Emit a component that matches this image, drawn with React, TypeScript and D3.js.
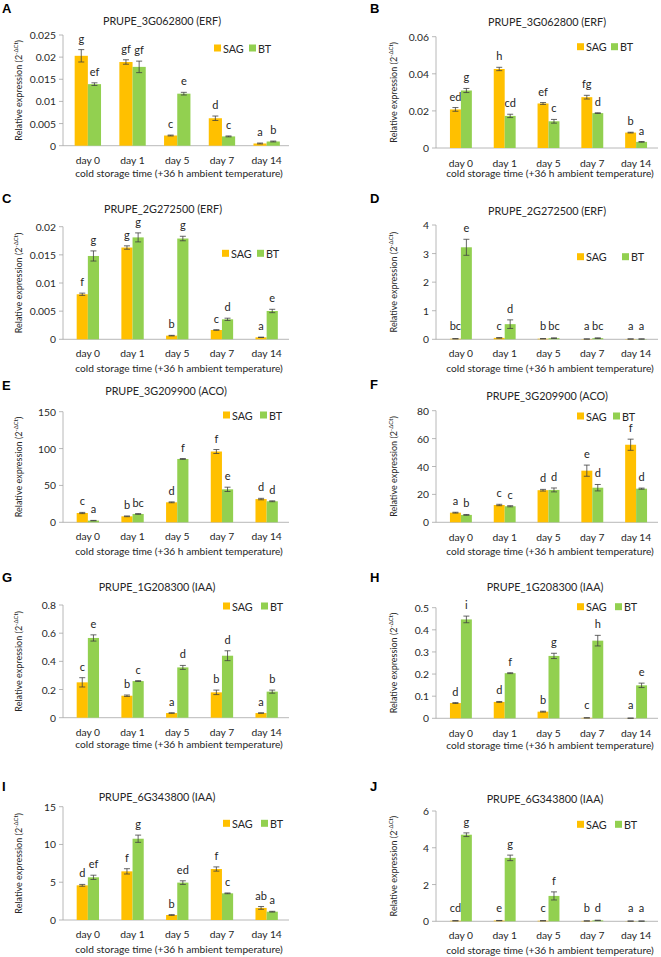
import React from "react";
import * as d3 from "d3";

const DAYS = ["day 0", "day 1", "day 5", "day 7", "day 14"];
const SERIES = ["SAG", "BT"];
const COLORS = ["#FFC000", "#92D050"];
const X_TITLE = "cold storage time (+36 h ambient temperature)";

// Panel A
const A_SAG = [0.0203, 0.0189, 0.0023, 0.0062, 0.0005];
const A_SAG_ERR = [0.0014, 0.0005, 0.0001, 0.0005, 0.0001];
const A_BT = [0.0139, 0.0178, 0.01175, 0.0021, 0.00095];
const A_BT_ERR = [0.0003, 0.0013, 0.0003, 0.0001, 0.0001];
const A_SAG_LET = ["g", "gf", "c", "d", "a"];
const A_BT_LET = ["ef", "gf", "e", "c", "b"];
// Panel B
const B_SAG = [0.0208, 0.0426, 0.024, 0.0274, 0.0083];
const B_SAG_ERR = [0.001, 0.0009, 0.0005, 0.001, 0.0002];
const B_BT = [0.031, 0.0173, 0.0144, 0.0188, 0.0033];
const B_BT_ERR = [0.0011, 0.0009, 0.001, 0.0002, 0.0002];
const B_SAG_LET = ["ed", "h", "ef", "fg", "b"];
const B_BT_LET = ["g", "cd", "c", "d", "a"];
// Panel C
const C_SAG = [0.008, 0.0163, 0.00065, 0.00165, 0.00035];
const C_SAG_ERR = [0.0002, 0.0003, 0.00005, 0.00005, 0.00003];
const C_BT = [0.0148, 0.0181, 0.0179, 0.00355, 0.00503];
const C_BT_ERR = [0.0009, 0.0008, 0.0004, 0.0002, 0.0003];
const C_SAG_LET = ["f", "g", "b", "c", "a"];
const C_BT_LET = ["g", "g", "g", "d", "e"];
// Panel D
const D_SAG = [0.02, 0.05, 0.02, 0.01, 0.01];
const D_SAG_ERR = [0.005, 0.01, 0.005, 0.003, 0.002];
const D_BT = [3.22, 0.53, 0.04, 0.04, 0.01];
const D_BT_ERR = [0.28, 0.15, 0.01, 0.01, 0.003];
const D_SAG_LET = ["bc", "c", "b", "a", "a"];
const D_BT_LET = ["e", "d", "bc", "bc", "a"];
// Panel E
const E_SAG = [12.6, 8.1, 27.1, 96.0, 31.5];
const E_SAG_ERR = [0.8, 0.5, 0.6, 2.7, 1.0];
const E_BT = [2.3, 11.3, 85.9, 44.7, 28.5];
const E_BT_ERR = [0.3, 0.5, 0.6, 2.9, 0.6];
const E_SAG_LET = ["c", "b", "d", "f", "d"];
const E_BT_LET = ["a", "bc", "f", "e", "d"];
// Panel F
const F_SAG = [6.9, 12.4, 23.0, 37.0, 55.6];
const F_SAG_ERR = [0.3, 0.5, 0.6, 4.0, 4.0];
const F_BT = [5.3, 11.5, 23.2, 24.8, 24.1];
const F_BT_ERR = [0.3, 0.4, 1.4, 2.3, 0.4];
const F_SAG_LET = ["a", "c", "d", "e", "f"];
const F_BT_LET = ["b", "c", "d", "d", "d"];
// Panel G
const G_SAG = [0.251, 0.156, 0.033, 0.18, 0.033];
const G_SAG_ERR = [0.033, 0.005, 0.002, 0.016, 0.002];
const G_BT = [0.566, 0.26, 0.357, 0.44, 0.185];
const G_BT_ERR = [0.022, 0.003, 0.014, 0.035, 0.011];
const G_SAG_LET = ["c", "b", "a", "b", "a"];
const G_BT_LET = ["e", "c", "d", "d", "b"];
// Panel H
const H_SAG = [0.069, 0.074, 0.03, 0.002, 0.0005];
const H_SAG_ERR = [0.002, 0.002, 0.002, 0.0005, 0.0002];
const H_BT = [0.447, 0.204, 0.282, 0.351, 0.149];
const H_BT_ERR = [0.015, 0.002, 0.012, 0.024, 0.01];
const H_SAG_LET = ["d", "d", "b", "c", "a"];
const H_BT_LET = ["i", "f", "g", "h", "e"];
// Panel I
const I_SAG = [4.59, 6.44, 0.66, 6.75, 1.6];
const I_SAG_ERR = [0.12, 0.35, 0.05, 0.28, 0.18];
const I_BT = [5.65, 10.76, 4.95, 3.53, 1.1];
const I_BT_ERR = [0.28, 0.48, 0.24, 0.05, 0.05];
const I_SAG_LET = ["d", "f", "b", "f", "ab"];
const I_BT_LET = ["ef", "g", "ed", "c", "a"];
// Panel J
const J_SAG = [0.03, 0.04, 0.03, 0.02, 0.01];
const J_SAG_ERR = [0.005, 0.006, 0.005, 0.003, 0.002];
const J_BT = [4.71, 3.45, 1.38, 0.05, 0.01];
const J_BT_ERR = [0.1, 0.15, 0.22, 0.01, 0.003];
const J_SAG_LET = ["cd", "e", "c", "b", "a"];
const J_BT_LET = ["g", "g", "f", "d", "a"];

const TITLES = [
  "PRUPE_3G062800 (ERF)", "PRUPE_3G062800 (ERF)",
  "PRUPE_2G272500 (ERF)", "PRUPE_2G272500 (ERF)",
  "PRUPE_3G209900 (ACO)", "PRUPE_3G209900 (ACO)",
  "PRUPE_1G208300 (IAA)", "PRUPE_1G208300 (IAA)",
  "PRUPE_6G343800 (IAA)", "PRUPE_6G343800 (IAA)",
];
const LETTERS = ["A", "B", "C", "D", "E", "F", "G", "H", "I", "J"];
const Y_MAX = [0.025, 0.06, 0.02, 4, 150, 80, 0.8, 0.5, 15, 6];
const Y_STEP = [0.005, 0.02, 0.005, 1, 50, 20, 0.2, 0.1, 5, 2];

const PANEL_DATA = [
  [A_SAG, A_SAG_ERR, A_BT, A_BT_ERR, A_SAG_LET, A_BT_LET],
  [B_SAG, B_SAG_ERR, B_BT, B_BT_ERR, B_SAG_LET, B_BT_LET],
  [C_SAG, C_SAG_ERR, C_BT, C_BT_ERR, C_SAG_LET, C_BT_LET],
  [D_SAG, D_SAG_ERR, D_BT, D_BT_ERR, D_SAG_LET, D_BT_LET],
  [E_SAG, E_SAG_ERR, E_BT, E_BT_ERR, E_SAG_LET, E_BT_LET],
  [F_SAG, F_SAG_ERR, F_BT, F_BT_ERR, F_SAG_LET, F_BT_LET],
  [G_SAG, G_SAG_ERR, G_BT, G_BT_ERR, G_SAG_LET, G_BT_LET],
  [H_SAG, H_SAG_ERR, H_BT, H_BT_ERR, H_SAG_LET, H_BT_LET],
  [I_SAG, I_SAG_ERR, I_BT, I_BT_ERR, I_SAG_LET, I_BT_LET],
  [J_SAG, J_SAG_ERR, J_BT, J_BT_ERR, J_SAG_LET, J_BT_LET],
];

// layout (pixel positions)
const LAYOUT = [
  { lx: 2, ly: 13, tx: 162, ty: 20, yTop: 35, y0: 145.7, tickY: 160, xtY: 173, legY: 48, sagX: 214, btX: 249, pad: 0.41 },
  { lx: 370, ly: 13, tx: 547, ty: 21.7, yTop: 36.7, y0: 148, tickY: 162.7, xtY: 173.3, legY: 46.7, sagX: 577, btX: 611, pad: 0.5 },
  { lx: 2, ly: 203, tx: 163, ty: 208.3, yTop: 226.7, y0: 339.3, tickY: 353, xtY: 368, legY: 253.3, sagX: 222, btX: 257, pad: 0.5 },
  { lx: 370, ly: 203, tx: 547, ty: 210, yTop: 225, y0: 339.3, tickY: 353.3, xtY: 368.3, legY: 256.7, sagX: 577, btX: 622, pad: 0.5 },
  { lx: 2, ly: 390, tx: 166, ty: 390, yTop: 411.7, y0: 522.3, tickY: 536, xtY: 550.7, legY: 415, sagX: 223, btX: 260, pad: 0.5 },
  { lx: 370, ly: 389, tx: 547, ty: 395, yTop: 410.7, y0: 522.3, tickY: 536.7, xtY: 550.7, legY: 416, sagX: 577, btX: 613, pad: 0.5 },
  { lx: 2, ly: 582, tx: 157, ty: 586.7, yTop: 605, y0: 717.7, tickY: 731.7, xtY: 744, legY: 606, sagX: 223, btX: 261, pad: 0.5 },
  { lx: 370, ly: 582, tx: 545, ty: 586, yTop: 607.7, y0: 718.3, tickY: 732.7, xtY: 745, legY: 606.7, sagX: 577, btX: 615, pad: 0.5 },
  { lx: 2, ly: 791, tx: 157, ty: 796.7, yTop: 806.7, y0: 920, tickY: 934, xtY: 949, legY: 823.3, sagX: 223, btX: 261, pad: 0.5 },
  { lx: 370, ly: 791, tx: 545, ty: 798.3, yTop: 811, y0: 921.3, tickY: 935, xtY: 950, legY: 824.3, sagX: 577, btX: 615, pad: 0.5 },
];

const FONT = "Lato, 'Open Sans', sans-serif";
const TXT = "#262626";
const AXIS = "#a6a6a6";

function fmt(v: number) {
  return String(+v.toFixed(4));
}

function Panel({ i }: { i: number }) {
  const L = LAYOUT[i];
  const [sag, sagErr, bt, btErr, sagLet, btLet] = PANEL_DATA[i] as any[];
  const left = i % 2 === 0;
  const axisX = left ? 63 : 436;
  const range: [number, number] = left ? [65.5, 289] : [439, 658];
  const x = d3.scaleBand<string>().domain(DAYS).range(range).paddingInner(L.pad).paddingOuter(L.pad / 2);
  const xs = d3.scaleBand<string>().domain(SERIES).range([0, x.bandwidth()]);
  const y = d3.scaleLinear().domain([0, Y_MAX[i]]).range([L.y0, L.yTop]);
  const ticks = d3.range(0, Y_MAX[i] + Y_STEP[i] / 2, Y_STEP[i]);
  const vals = [sag, bt];
  const errs = [sagErr, btErr];
  const lets = [sagLet, btLet];
  const ylx = left ? 18 : 393;
  const ylMid = (L.yTop + L.y0) / 2;
  const xEnd = left ? 289 : 658;
  return (
    <g fontFamily={FONT}>
      <text x={L.lx} y={L.ly} fontSize={13} fontWeight="bold" fill="#000" fontFamily="'Liberation Sans', Arial, sans-serif">{LETTERS[i]}</text>
      <text x={L.tx} y={L.ty} fontSize={10.8} fill={TXT} textAnchor="middle" dominantBaseline="central">{TITLES[i]}</text>
      <text transform={`translate(${ylx},${ylMid}) rotate(-90)`} fontSize={9} fill={TXT} textAnchor="middle" dominantBaseline="central">
        Relative expression (2<tspan fontSize={6} dy={-3.5}>-ΔCt</tspan><tspan dy={3.5}>)</tspan>
      </text>
      {/* y axis */}
      <line x1={axisX} x2={axisX} y1={L.yTop} y2={L.y0} stroke={AXIS} strokeWidth={0.8} />
      {ticks.map((t) => (
        <g key={t}>
          <line x1={axisX - 4} x2={axisX} y1={y(t)} y2={y(t)} stroke={AXIS} strokeWidth={0.8} />
          <text x={axisX - 7} y={y(t)} fontSize={10.3} fill={TXT} textAnchor="end" dominantBaseline="central">{fmt(t)}</text>
        </g>
      ))}
      {/* x axis */}
      <line x1={axisX} x2={xEnd} y1={L.y0} y2={L.y0} stroke={AXIS} strokeWidth={0.8} />
      {DAYS.map((d) => (
        <text key={d} x={(x(d) as number) + x.bandwidth() / 2} y={L.tickY} fontSize={10.3} fill={TXT} textAnchor="middle" dominantBaseline="central">{d}</text>
      ))}
      <text x={(axisX + xEnd) / 2 + 3} y={L.xtY} fontSize={10.2} fill={TXT} textAnchor="middle" dominantBaseline="central">{X_TITLE}</text>
      {/* bars */}
      {SERIES.map((s, si) =>
        DAYS.map((d, di) => {
          const v = vals[si][di];
          const e = errs[si][di];
          const bx = (x(d) as number) + (xs(s) as number);
          const bw = xs.bandwidth();
          const cx = bx + bw / 2;
          const top = y(v + e);
          return (
            <g key={s + d}>
              <rect x={bx} y={y(v)} width={bw} height={L.y0 - y(v)} fill={COLORS[si]} />
              <line x1={cx} x2={cx} y1={y(v - e)} y2={top} stroke="#404040" strokeWidth={0.8} />
              <line x1={cx - 3} x2={cx + 3} y1={top} y2={top} stroke="#404040" strokeWidth={0.8} />
              <line x1={cx - 3} x2={cx + 3} y1={y(v - e)} y2={y(v - e)} stroke="#404040" strokeWidth={0.8} />
              <text x={cx} y={Math.min(top, L.y0 - 2) - 7} fontSize={11} fill={TXT} textAnchor="middle">{lets[si][di]}</text>
            </g>
          );
        })
      )}
      {/* legend */}
      {SERIES.map((s, si) => {
        const lx = si === 0 ? L.sagX : L.btX;
        return (
          <g key={s}>
            <rect x={lx} y={L.legY - 3.5} width={7} height={7} fill={COLORS[si]} />
            <text x={lx + 9} y={L.legY} fontSize={10.8} fill={TXT} dominantBaseline="central">{s}</text>
          </g>
        );
      })}
    </g>
  );
}

export default function App() {
  return (
    <svg width={661} height={957} style={{ position: "absolute", left: 0, top: 0, background: "#fff" }}>
      <rect width={661} height={957} fill="#fff" />
      {LETTERS.map((_, i) => (
        <Panel key={i} i={i} />
      ))}
    </svg>
  );
}
